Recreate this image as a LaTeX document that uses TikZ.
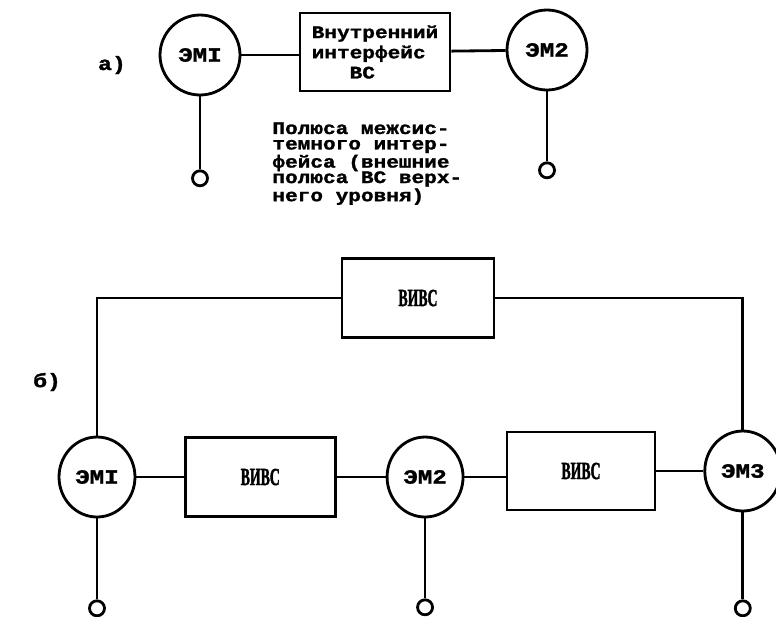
\documentclass[tikz,border=0pt]{standalone}
\usepackage{fontspec}
\usepackage{tikz}
\usetikzlibrary{positioning, shapes.geometric}
\newfontfamily\typew[FakeStretch=1.2, BoldFeatures={FakeBold=1.5}]{Liberation Mono}
\newfontfamily\condser[FakeStretch=0.56, BoldFeatures={FakeBold=1.5}]{Liberation Serif}

\begin{document}
\begin{tikzpicture}[
        x=0.02cm, y=-0.02cm, line width=1.6pt,
        emod/.style={circle, draw, minimum size=1.6cm, inner sep=0pt, font=\typew\bfseries\fontsize{11.5}{13}\selectfont},
        emodb/.style={ellipse, draw, minimum width=1.52cm, minimum height=1.6cm, inner sep=0pt, font=\typew\bfseries\fontsize{11.5}{13}\selectfont},
        ibox/.style={rectangle, draw, minimum width=3cm, minimum height=1.56cm, inner sep=1pt, align=left, font=\typew\bfseries\fontsize{10}{11.5}\selectfont},
        vbox/.style={rectangle, draw, minimum width=3cm, minimum height=1.58cm, font=\condser\bfseries\fontsize{14}{16}\selectfont},
        term/.style={circle, draw, minimum size=0.3cm, inner sep=0pt},
        lbl/.style={font=\typew\bfseries\fontsize{11}{13}\selectfont},
        note/.style={align=left, inner sep=0pt, font=\typew\bfseries\fontsize{10}{8.8}\selectfont}
    ]
        \useasboundingbox (0,0) rectangle (776,616);

        \node[lbl] (la) at (112,65) {а)};
        \node[emod] (a1) at (200,55) {ЭМI};
        \node[ibox] (ai) at (375,52) {Внутренний\\интерфейс\\\ \ \ ВС};
        \node[emod] (a2) at (547,50) {ЭМ2};
        \node[term, below=1.46cm of a1] (ta1) {};
        \node[term, below=1.4cm of a2] (ta2) {};
        \node[note, anchor=north west] (pol) at (271,121) {Полюса межсис-\\темного интер-\\фейса (внешние\\полюса ВС верх-\\него уровня)};

        \draw (a1.east) -- (a1.east -| ai.west);
        \draw (ai) -- (a2);
        \draw (a1) -- (ta1);
        \draw (a2) -- (ta2);

        \node[lbl] (lb) at (47,382) {б)};
        \node[emodb] (b1) at (97,477) {ЭМI};
        \node[vbox, right=0.95cm of b1] (v1) {ВИВС};
        \node[emodb, right=0.98cm of v1] (b2) {ЭМ2};
        \node[vbox, minimum width=2.96cm, minimum height=1.56cm] (v2) at (581,471) {ВИВС};
        \node[emodb, right=0.94cm of v2] (b3) {ЭМ3};
        \node[vbox, minimum width=3.04cm] (v0) at (418,298) {ВИВС};
        \node[term, below=1.62cm of b1] (tb1) {};
        \node[term, below=1.6cm of b2] (tb2) {};
        \node[term, below=1.74cm of b3] (tb3) {};

        \draw (b1) -- (v1);
        \draw (v1) -- (b2);
        \draw (b2.east) -- (b2.east -| v2.west);
        \draw (v2) -- (b3);
        \draw (v0.west) -| (b1.north);
        \draw (v0.east) -| (b3.north);
        \draw (b1) -- (tb1);
        \draw (b2) -- (tb2);
        \draw (b3) -- (tb3);
    \end{tikzpicture}
\end{document}
